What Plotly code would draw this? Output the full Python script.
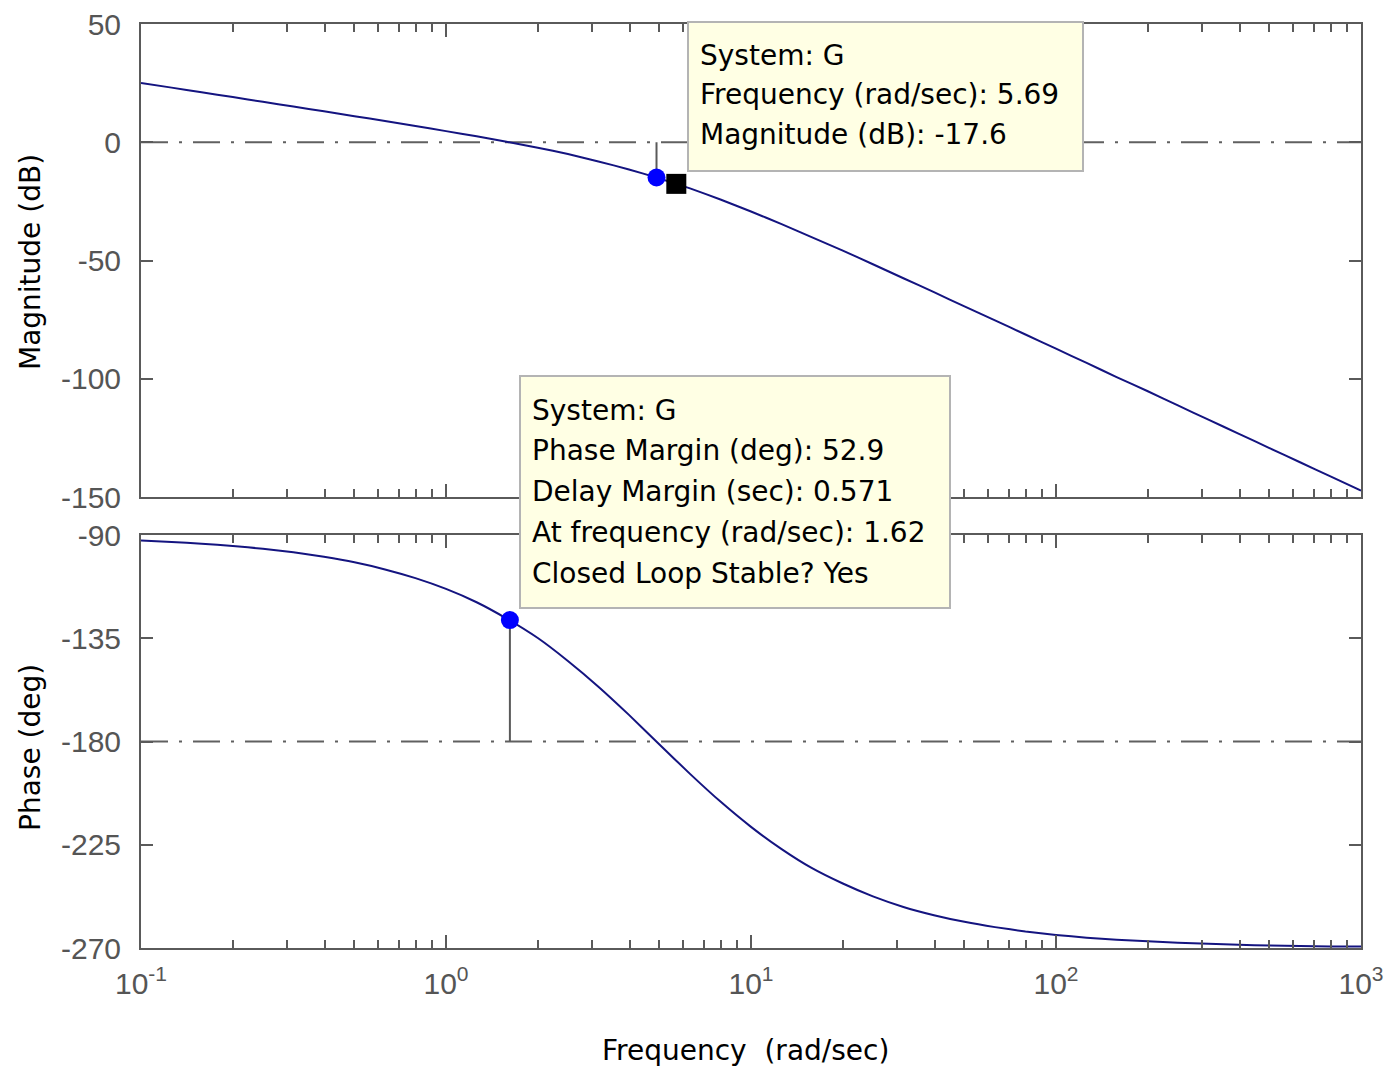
import plotly.graph_objects as go

# Open-loop frequency response of G (rad/sec, dB, deg)
freq = [0.1, 0.126, 0.158, 0.2, 0.251, 0.316, 0.398, 0.501, 0.631, 0.794,
        1, 1.26, 1.58, 2.0, 2.51, 3.16, 3.98, 5.01, 6.31, 7.94,
        10, 12.6, 15.8, 20, 25.1, 31.6, 39.8, 50.1, 63.1, 79.4,
        100, 126, 158, 200, 251, 316, 398, 501, 631, 794, 1000]
mag_db = [25.1, 23.1, 21.1, 19.1, 17.1, 15.1, 13.1, 11.0, 9.0, 6.9,
          4.7, 2.5, 0.2, -2.3, -5.0, -8.1, -11.5, -15.3, -19.5, -24.2,
          -29.3, -34.6, -40.1, -45.8, -51.6, -57.5, -63.4, -69.4, -75.3, -81.3,
          -87.3, -93.3, -99.3, -105.3, -111.3, -117.3, -123.3, -129.3, -135.3, -141.3,
          -147.3]
phase_deg = [-92.4, -93.0, -93.8, -94.8, -96.0, -97.5, -99.5, -101.9, -105.0, -108.8,
             -113.5, -119.3, -126.4, -134.9, -144.9, -156.1, -168.4, -181.3, -194.1, -206.2,
             -217.2, -226.9, -235.1, -241.9, -247.5, -252.1, -255.7, -258.6, -260.9, -262.8,
             -264.3, -265.5, -266.4, -267.1, -267.7, -268.2, -268.6, -268.9, -269.1, -269.3,
             -269.4]

# Stability margins and data tip
gm_freq, gm_mag = 4.9, -14.9
pm_freq, pm_value, delay_margin = 1.62, 52.9, 0.571
pm_phase = -180 + pm_value
tip_freq, tip_mag = 5.69, -17.6

x_ticks = [0.1, 1, 10, 100, 1000]
x_ticktext = ["10<sup>-1</sup>", "10<sup>0</sup>", "10<sup>1</sup>", "10<sup>2</sup>", "10<sup>3</sup>"]
mag_ticks = [-150, -100, -50, 0, 50]
phase_ticks = [-270, -225, -180, -135, -90]

W, H = 1386, 1067
ML, MR, MT, MB = 141, 25, 24, 119
PW, PH = W - ML - MR, H - MT - MB


def px_x(px):
    return (px - ML) / PW


def px_y(py):
    return (H - MB - py) / PH


CURVE = "#141480"
AXC = "#5a5a5a"
REFC = "#606060"
REF_DASH = "27px,11px,3px,11px"

fig = go.Figure()

# reference lines: 0 dB and -180 deg
fig.add_trace(go.Scatter(x=[x_ticks[0], x_ticks[-1]], y=[0, 0], mode="lines",
                         line=dict(color=REFC, width=2, dash=REF_DASH),
                         xaxis="x", yaxis="y", hoverinfo="skip"))
fig.add_trace(go.Scatter(x=[x_ticks[0], x_ticks[-1]], y=[-180, -180], mode="lines",
                         line=dict(color=REFC, width=2, dash=REF_DASH),
                         xaxis="x2", yaxis="y2", hoverinfo="skip"))

# margin stems
fig.add_trace(go.Scatter(x=[gm_freq, gm_freq], y=[0, gm_mag], mode="lines",
                         line=dict(color=AXC, width=2), xaxis="x", yaxis="y", hoverinfo="skip"))
fig.add_trace(go.Scatter(x=[pm_freq, pm_freq], y=[pm_phase, -180], mode="lines",
                         line=dict(color=AXC, width=2), xaxis="x2", yaxis="y2", hoverinfo="skip"))

# response curves
fig.add_trace(go.Scatter(x=freq, y=mag_db, mode="lines",
                         line=dict(color=CURVE, width=2, shape="spline", smoothing=0.5),
                         xaxis="x", yaxis="y", name="G"))
fig.add_trace(go.Scatter(x=freq, y=phase_deg, mode="lines",
                         line=dict(color=CURVE, width=2, shape="spline", smoothing=0.5),
                         xaxis="x2", yaxis="y2", name="G"))

# margin markers and data tip marker
fig.add_trace(go.Scatter(x=[gm_freq], y=[gm_mag], mode="markers",
                         marker=dict(color="#0000ff", size=18, symbol="circle"),
                         xaxis="x", yaxis="y"))
fig.add_trace(go.Scatter(x=[tip_freq], y=[tip_mag], mode="markers",
                         marker=dict(color="#000000", size=20, symbol="square"),
                         xaxis="x", yaxis="y"))
fig.add_trace(go.Scatter(x=[pm_freq], y=[pm_phase], mode="markers",
                         marker=dict(color="#0000ff", size=18, symbol="circle"),
                         xaxis="x2", yaxis="y2"))

minor_vals = [m * d for d in [0.1, 1, 10, 100] for m in range(2, 10)]
tickfont = dict(family="Liberation Sans, Arial, sans-serif", size=30, color="#555555")


def xaxis_cfg(show_labels, anchor):
    return dict(type="log", range=[-1, 3], anchor=anchor, domain=[0, 1], automargin=False,
                tickmode="array", tickvals=x_ticks, ticktext=x_ticktext,
                showticklabels=show_labels, ticks="inside", ticklen=13, tickwidth=2,
                tickcolor=AXC, mirror="ticks", showline=True, linecolor=AXC, linewidth=2,
                showgrid=False, zeroline=False, tickfont=tickfont, ticklabelstandoff=8,
                minor=dict(tickmode="array", tickvals=minor_vals, ticks="inside",
                           ticklen=8, tickwidth=2, tickcolor=AXC, showgrid=False))


def yaxis_cfg(rng, vals, domain, anchor):
    return dict(range=rng, domain=domain, anchor=anchor, automargin=False,
                tickmode="array", tickvals=vals, ticktext=[str(v) for v in vals],
                ticks="inside", ticklen=12, tickwidth=2, tickcolor=AXC, mirror="ticks",
                showline=True, linecolor=AXC, linewidth=2, showgrid=False, zeroline=False,
                tickfont=tickfont, ticklabelstandoff=12)


annotations = []
shapes = []
axis_title_font = dict(family="DejaVu Sans, sans-serif", size=28, color="#000000")
annotations.append(dict(xref="paper", yref="paper", x=px_x(30), y=px_y(262),
                        text="Magnitude (dB)", textangle=-90, showarrow=False,
                        font=axis_title_font, xanchor="center", yanchor="middle"))
annotations.append(dict(xref="paper", yref="paper", x=px_x(30), y=px_y(747),
                        text="Phase (deg)", textangle=-90, showarrow=False,
                        font=axis_title_font, xanchor="center", yanchor="middle"))
annotations.append(dict(xref="paper", yref="paper", x=px_x(745), y=px_y(1050),
                        text="Frequency  (rad/sec)", showarrow=False,
                        font=axis_title_font, xanchor="center", yanchor="middle"))

tip_font = dict(family="DejaVu Sans, sans-serif", size=28, color="#000000")


def data_tip(left, top, width, height, lines, first_line_y, spacing):
    shapes.append(dict(type="rect", xref="paper", yref="paper", layer="above",
                       x0=px_x(left), x1=px_x(left + width),
                       y0=px_y(top + height), y1=px_y(top),
                       fillcolor="#ffffe4", line=dict(color="#b4b4b4", width=2)))
    for i, line in enumerate(lines):
        annotations.append(dict(xref="paper", yref="paper", x=px_x(left + 10),
                                y=px_y(first_line_y + i * spacing),
                                xanchor="left", yanchor="middle", text=line,
                                font=tip_font, showarrow=False))


data_tip(688, 22, 395, 149,
         ["System: G", f"Frequency (rad/sec): {tip_freq}", f"Magnitude (dB): {tip_mag}"],
         55, 40)
data_tip(520, 376, 430, 232,
         ["System: G", f"Phase Margin (deg): {pm_value}", f"Delay Margin (sec): {delay_margin}",
          f"At frequency (rad/sec): {pm_freq}", "Closed Loop Stable? Yes"],
         410, 40.75)

fig.update_layout(
    width=W, height=H,
    margin=dict(l=ML, r=MR, t=MT, b=MB, pad=0, autoexpand=False),
    paper_bgcolor="white", plot_bgcolor="white",
    showlegend=False,
    xaxis=xaxis_cfg(False, "y"),
    yaxis=yaxis_cfg([-150, 50], mag_ticks, [1 - 473 / PH, 1], "x"),
    xaxis2=xaxis_cfg(True, "y2"),
    yaxis2=yaxis_cfg([-270, -90], phase_ticks, [0, 413 / PH], "x2"),
    annotations=annotations,
    shapes=shapes,
)

fig.write_html("out.html")
